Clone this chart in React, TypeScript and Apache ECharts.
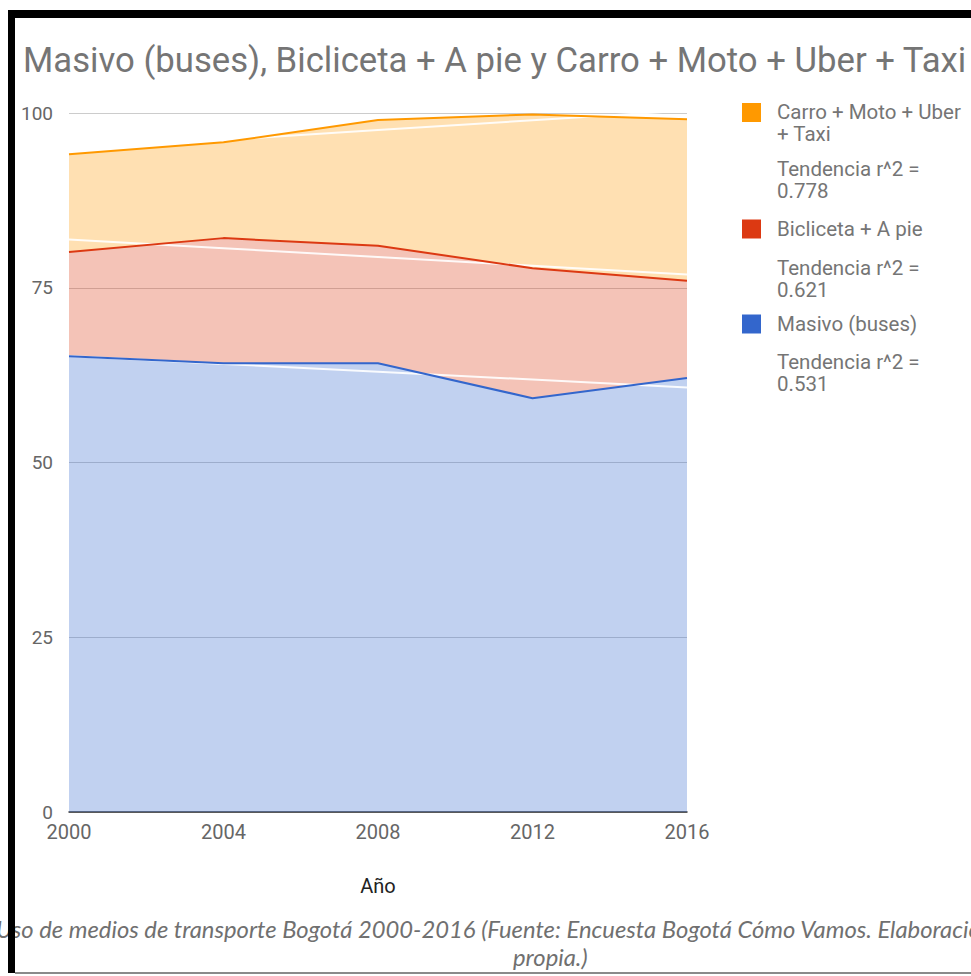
import React, { useEffect, useRef } from 'react';
import * as echarts from 'echarts';

// ---- data ----
const years = [2000, 2004, 2008, 2012, 2016];
const masivo = [65.2, 64.2, 64.2, 59.2, 62.1];
const bicicleta = [14.9, 17.9, 16.8, 18.6, 13.9];
const carro = [14.0, 13.7, 18.0, 22.0, 23.1];
const seriesNames = ['Masivo (buses)', 'Bicliceta + A pie', 'Carro + Moto + Uber\n+ Taxi'];
const trendR2 = ['0.531', '0.621', '0.778'];
const seriesColors = ['#3366CC', '#DC3912', '#FF9900'];
const yTicks = [0, 25, 50, 75, 100];

const titleText = 'Masivo (buses), Bicliceta + A pie y Carro + Moto + Uber + Taxi';
const captionLine1 = 'Uso de medios de transporte Bogotá 2000-2016 (Fuente: Encuesta Bogotá Cómo Vamos. Elaboración';
const captionLine2 = 'propia.)';

// least-squares trend line on the stacked (cumulative) values, evaluated at each year
function trend(ys: number[]): number[] {
  const n = years.length;
  const mx = years.reduce((a, b) => a + b, 0) / n;
  const my = ys.reduce((a, b) => a + b, 0) / n;
  let sxy = 0;
  let sxx = 0;
  for (let i = 0; i < n; i++) {
    sxy += (years[i] - mx) * (ys[i] - my);
    sxx += (years[i] - mx) * (years[i] - mx);
  }
  const k = sxy / sxx;
  return years.map((x) => my + k * (x - mx));
}

export default function App() {
  const ref = useRef<HTMLDivElement>(null);

  useEffect(() => {
    if (!ref.current) return;
    const chart = echarts.init(ref.current, undefined, { renderer: 'svg' });

    const raw = [masivo, bicicleta, carro];
    const cumulative = raw.map((_, s) =>
      years.map((_, i) => raw.slice(0, s + 1).reduce((acc, arr) => acc + arr[i], 0))
    );
    const trendNames = trendR2.map((r) => `Tendencia r^2 =\n${r}`);

    const areaSeries = raw.map((vals, s) => ({
      name: seriesNames[s],
      type: 'line',
      stack: 'area',
      data: vals,
      symbol: 'none',
      color: seriesColors[s],
      lineStyle: { width: 0, opacity: 0 },
      areaStyle: { color: seriesColors[s], opacity: 0.3 },
      silent: true,
    }));

    const trendSeries = cumulative.map((vals, s) => ({
      name: trendNames[s],
      type: 'line',
      data: trend(vals),
      symbol: 'none',
      color: '#ffffff',
      lineStyle: { color: '#ffffff', width: 2, opacity: 0.9 },
      silent: true,
    }));

    const lineSeries = raw.map((vals, s) => ({
      name: seriesNames[s],
      type: 'line',
      stack: 'lines',
      data: vals,
      symbol: 'none',
      color: seriesColors[s],
      lineStyle: { color: seriesColors[s], width: 2 },
      silent: true,
    }));

    const legendItems = [
      { name: seriesNames[2], color: seriesColors[2], top: 101, tall: true },
      { name: trendNames[2], color: 'rgba(0,0,0,0)', top: 158, tall: false },
      { name: seriesNames[1], color: seriesColors[1], top: 218, tall: false },
      { name: trendNames[1], color: 'rgba(0,0,0,0)', top: 257, tall: false },
      { name: seriesNames[0], color: seriesColors[0], top: 313, tall: false },
      { name: trendNames[0], color: 'rgba(0,0,0,0)', top: 351, tall: false },
    ];

    chart.setOption({
      animation: false,
      backgroundColor: '#ffffff',
      title: {
        text: titleText,
        left: 23,
        top: 42,
        padding: 0,
        textStyle: { fontFamily: 'Roboto', fontSize: 34.7, fontWeight: 'normal', color: '#757575' },
      },
      legend: legendItems.map((it) => ({
        left: 742,
        top: it.top,
        padding: 0,
        orient: 'vertical',
        itemWidth: 19,
        itemHeight: it.tall ? 40 : 19,
        itemGap: 0,
        selectedMode: false,
        textStyle: {
          fontFamily: 'Roboto',
          fontSize: 20.5,
          color: '#757575',
          lineHeight: 22,
          padding: [0, 0, 0, 11],
        },
        data: [
          {
            name: it.name,
            icon: it.tall ? 'path://M0,0H19V19H0Z M0,40H0.01V40.01H0Z' : 'rect',
            itemStyle: { color: it.color, borderWidth: 0 },
          },
        ],
      })),
      grid: { left: 69, right: 284, top: 113, bottom: 164, containLabel: false },
      xAxis: {
        type: 'category',
        data: years.map(String),
        boundaryGap: false,
        name: 'Año',
        nameLocation: 'middle',
        nameGap: 64,
        nameTextStyle: { fontFamily: 'Roboto', fontSize: 20, color: '#222222' },
        axisLine: { show: true, lineStyle: { color: '#333333', width: 1.5 } },
        axisTick: { show: false },
        splitLine: { show: false },
        axisLabel: {
          interval: 0,
          fontFamily: 'Roboto',
          fontSize: 20,
          color: '#666666',
          margin: 10,
        },
      },
      yAxis: {
        type: 'value',
        min: yTicks[0],
        max: yTicks[yTicks.length - 1],
        interval: yTicks[1] - yTicks[0],
        axisLine: { show: false },
        axisTick: { show: false },
        splitLine: { show: true, lineStyle: { color: '#cccccc', width: 1 } },
        axisLabel: { fontFamily: 'Roboto', fontSize: 19, color: '#666666', margin: 16 },
      },
      graphic: [
        {
          type: 'text',
          left: -4,
          top: 917,
          style: { text: captionLine1, font: 'italic 23.8px Lato', fill: '#707070' },
          silent: true,
        },
        {
          type: 'text',
          left: 513,
          top: 945,
          style: { text: captionLine2, font: 'italic 23.8px Lato', fill: '#707070' },
          silent: true,
        },
        { type: 'rect', shape: { x: 8, y: 10, width: 963, height: 8 }, style: { fill: '#000000' }, silent: true },
        { type: 'rect', shape: { x: 8, y: 10, width: 7, height: 963 }, style: { fill: '#000000' }, silent: true },
        { type: 'rect', shape: { x: 15, y: 972, width: 956, height: 2 }, style: { fill: '#8a8a8a' }, silent: true },
      ],
      series: [...areaSeries, ...trendSeries, ...lineSeries],
    });

    return () => chart.dispose();
  }, []);

  return (
    <div
      ref={ref}
      style={{ position: 'absolute', left: 0, top: 0, width: 971, height: 976, background: '#ffffff' }}
    />
  );
}
